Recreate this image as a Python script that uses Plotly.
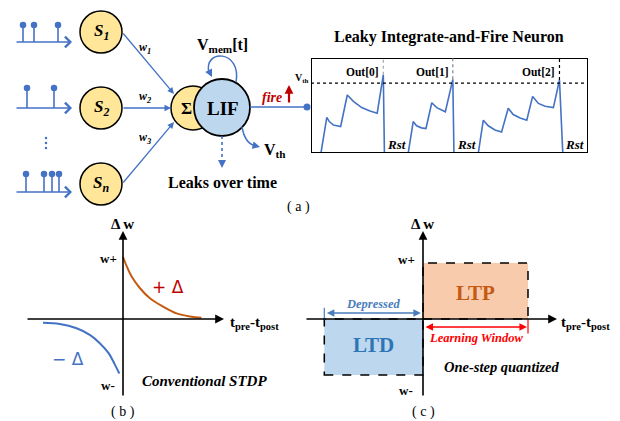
import plotly.graph_objects as go

W, H = 620, 421

# ---------------- data ----------------
# input spike trains (spike positions along each train)
train1 = [23, 34, 58]
train2 = [27, 54]
train3 = [26, 44, 52, 59]
synapse_labels = ["S<sub>1</sub>", "S<sub>2</sub>", "S<sub>n</sub>"]
weight_labels = ["w<sub>1</sub>", "w<sub>2</sub>", "w<sub>3</sub>"]

# LIF membrane potential (time a.u., potential relative to V_th = 1)
t_cycle0 = [3.6, 5.7, 6.6, 8.1, 10.7, 13.1, 15.3, 18.3, 21.3, 23.9, 26.1, 26.5]
v_cycle0 = [0, 0.51, 0.45, 0.40, 0.38, 0.83, 0.74, 0.65, 0.60, 0.57, 1.12, 0]
t_cycle1 = [35.1, 36.9, 38.1, 39.9, 41.5, 43.6, 45.4, 47.2, 48.5, 51.2, 51.6]
v_cycle1 = [0, 0.45, 0.39, 0.36, 0.35, 0.72, 0.65, 0.61, 0.59, 1.055, 0]
t_cycle2 = [60.4, 62.2, 64.0, 66.4, 68.8, 71.2, 73.0, 75.5, 77.9, 80.0, 82.1, 84.5, 87.5, 89.7, 90.9]
v_cycle2 = [0, 0.47, 0.39, 0.33, 0.30, 0.64, 0.55, 0.50, 0.47, 0.81, 0.71, 0.67, 0.65, 1.045, 0]
v_th = 1.0
input_spikes = [[3.6, 10.8, 24.1], [35.1, 42.0, 48.7], [60.2, 68.8, 78.1, 87.5]]
input_label_t = [13.0, 43.7, 75.1]
output_spikes = [26.1, 51.2, 89.7]
output_peaks = [1.12, 1.055, 1.045]
output_labels = ["Out[0]", "Out[1]", "Out[2]"]
reset_t = [30.7, 56.0, 95.3]

# Conventional STDP curves (delta t, delta w)
ltp_dt = [0.0, 0.05, 0.11, 0.21, 0.34, 0.50, 0.67, 0.84, 0.98]
ltp_dw = [1.0, 0.84, 0.68, 0.50, 0.33, 0.20, 0.09, 0.04, 0.02]
ltd_dt = [-1.0, -0.79, -0.58, -0.41, -0.29, -0.18, -0.10, -0.046]
ltd_dw = [-0.06, -0.08, -0.15, -0.26, -0.39, -0.55, -0.74, -0.88]

# One-step quantized STDP
ltp_window = 1.0
ltd_window = 0.94
w_plus = 1.0
w_minus = -1.0

# ---------------- styles ----------------
BLUE = "#4472C4"
ORANGE = "#C55A11"
SERIF = "Liberation Serif"
group_colors = ["#BFBFBF", "#808080", "#000000"]

fig = go.Figure()
ann = []
shp = []


def text(x, y, s, size, color="black", xref="x", yref="y", xanchor="center", family=SERIF):
    ann.append(dict(x=x, y=y, xref=xref, yref=yref, text=s, showarrow=False,
                    font=dict(family=family, size=size, color=color), xanchor=xanchor, yanchor="middle"))


def arrow(x0, y0, x1, y1, color=BLUE, width=1.3, head=2, size=1.0, xref="x", yref="y", side="end"):
    ann.append(dict(x=x1, y=y1, ax=x0, ay=y0, xref=xref, yref=yref, axref=xref, ayref=yref,
                    text="", showarrow=True, arrowhead=head, arrowsize=size, arrowwidth=width,
                    arrowcolor=color, standoff=0, startstandoff=0, arrowside=side,
                    startarrowhead=head, startarrowsize=size))


def px_x(p0, p1, origin, scale):
    return dict(domain=[p0 / W, p1 / W], range=[(p0 - origin) / scale, (p1 - origin) / scale])


def px_y(top, bot, origin, scale):
    return dict(domain=[1 - bot / H, 1 - top / H], range=[(origin - bot) / scale, (origin - top) / scale])


# ---------------- (a) neuron diagram (pixel frame) ----------------
trains = [train1, train2, train3]
baselines = [42, 108, 192]
heads = [25, 88, 174]
centers = [32, 108, 184]
for tr, base, hd in zip(trains, baselines, heads):
    xs, ys = [], []
    for s in tr:
        xs += [s, s, None]
        ys += [base, hd, None]
    fig.add_trace(go.Scatter(x=xs, y=ys, mode="lines", line=dict(color=BLUE, width=1.6),
                             hoverinfo="skip", showlegend=False))
    fig.add_trace(go.Scatter(x=tr, y=[hd] * len(tr), mode="markers",
                             marker=dict(color=BLUE, size=6.5), hoverinfo="skip", showlegend=False))
    arrow(15, base, 72, base, width=1.6, head=4, size=1.3)

# vertical dots
fig.add_trace(go.Scatter(x=[46, 46, 46], y=[138, 143, 148], mode="markers",
                         marker=dict(color=BLUE, size=2.5), hoverinfo="skip", showlegend=False))

# synapse circles
for cy, lab in zip(centers, synapse_labels):
    shp.append(dict(type="circle", xref="x", yref="y", x0=80, x1=122, y0=cy - 21, y1=cy + 21,
                    fillcolor="#FFE699", line=dict(color="black", width=1.5)))
    text(101, cy, "<b><i>" + lab + "</i></b>", 17)

# weight arrows
arrow(122, 32, 174, 94)
arrow(122, 108, 171, 108)
arrow(122, 184, 174, 122)
text(145, 48, "<b><i>" + weight_labels[0] + "</i></b>", 12)
text(145, 97, "<b><i>" + weight_labels[1] + "</i></b>", 12)
text(145, 138, "<b><i>" + weight_labels[2] + "</i></b>", 12)

# sum + LIF circles
shp.append(dict(type="circle", xref="x", yref="y", x0=171, x1=215, y0=86, y1=130,
                fillcolor="#FFE699", line=dict(color="black", width=1.5)))
shp.append(dict(type="circle", xref="x", yref="y", x0=194, x1=250, y0=79, y1=136,
                fillcolor="#BDD7EE", line=dict(color="black", width=1.8)))
text(186, 108, "<b>Σ</b>", 17)
text(223, 108, "<b>LIF</b>", 19)

# self loop
shp.append(dict(type="path", xref="x", yref="y", path="M 236 82 C 242 50, 203 48, 209 73",
                line=dict(color=BLUE, width=1.5)))
arrow(208.5, 70, 212, 77, width=1.5, size=1.0)
text(222, 45, "<b>V<sub>mem</sub>[t]</b>", 16)

# V_th curved arrow
shp.append(dict(type="path", xref="x", yref="y", path="M 242 127 Q 245 144, 256 146",
                line=dict(color=BLUE, width=1.5)))
arrow(252, 145, 260, 147, width=1.5)
text(275, 150, "<b>V<sub>th</sub></b>", 16)

# leak dashed arrow
shp.append(dict(type="line", xref="x", yref="y", x0=222, x1=222, y0=136, y1=162,
                line=dict(color=BLUE, width=1.6, dash="dot")))
arrow(222, 160, 222, 168, width=1.6)
text(222, 182, "<b>Leaks over time</b>", 16)

# output
shp.append(dict(type="line", xref="x", yref="y", x0=250, x1=307, y0=107, y1=107,
                line=dict(color=BLUE, width=1.6)))
fig.add_trace(go.Scatter(x=[307], y=[107], mode="markers", marker=dict(color=BLUE, size=7),
                         hoverinfo="skip", showlegend=False))
text(272, 97, "<b><i>fire</i></b>", 14, color="#C00000")
arrow(289, 104, 289, 85, color="#C00000", width=2.2, size=0.8)
text(302, 78, "<b>V<sub>th</sub></b>", 10)

text(298.5, 207, "( a )", 14)

# ---------------- (a) LIF trace panel (x2/y2) ----------------
for tt, vv in [(t_cycle0, v_cycle0), (t_cycle1, v_cycle1), (t_cycle2, v_cycle2)]:
    fig.add_trace(go.Scatter(x=tt, y=vv, xaxis="x2", yaxis="y2", mode="lines",
                             line=dict(color=BLUE, width=1.6), hoverinfo="skip", showlegend=False,
                             cliponaxis=False))
shp.append(dict(type="line", xref="x2", yref="y2", x0=0, x1=100, y0=v_th, y1=v_th,
                line=dict(color="black", width=1.2, dash="dot")))
shp.append(dict(type="rect", xref="x2", yref="y2", x0=0, x1=100, y0=0, y1=1.36,
                line=dict(color="black", width=2)))
for i, (ts, pk) in enumerate(zip(output_spikes, output_peaks)):
    col = ["#A6A6A6", "#808080", "#000000"][i]
    shp.append(dict(type="line", xref="x2", yref="y2", x0=ts, x1=ts, y0=pk, y1=1.5,
                    line=dict(color=col, width=1.2, dash="dot")))
    arrow(ts, 1.48, ts, 1.58, color=col, width=1.2, size=1.0, xref="x2", yref="y2")
    text(ts - 0.8, 1.16, "<b>" + output_labels[i] + "</b>", 11.5, xref="x2", yref="y2", xanchor="right")
for rt in reset_t:
    text(rt, 0.115, "<b><i>Rst</i></b>", 13, xref="x2", yref="y2")
text(101.5, -0.03, "<b>time</b>", 11.5, xref="x2", yref="y2", xanchor="left")
for g, spikes in enumerate(input_spikes):
    for s in spikes:
        arrow(s, -0.27, s, -0.05, color=group_colors[g], width=1.4, size=1.0, xref="x2", yref="y2")
    text(input_label_t[g], -0.40, "<b>Input spikes</b>", 13, xref="x2", yref="y2")
text(449, 37, "<b>Leaky Integrate-and-Fire Neuron</b>", 16)

# ---------------- (b) conventional STDP (x3/y3) ----------------
arrow(26, 319, 224, 319, color="black", width=1.6, head=2, size=1.1)
arrow(123, 397, 123, 231, color="black", width=1.6, head=2, size=1.1)
fig.add_trace(go.Scatter(x=ltp_dt, y=ltp_dw, xaxis="x3", yaxis="y3", mode="lines",
                         line=dict(color=ORANGE, width=2, shape="spline"), hoverinfo="skip", showlegend=False))
fig.add_trace(go.Scatter(x=ltd_dt, y=ltd_dw, xaxis="x3", yaxis="y3", mode="lines",
                         line=dict(color=BLUE, width=2, shape="spline"), hoverinfo="skip", showlegend=False))
text(122, 224, "<b>Δ w</b>", 15)
text(108, 258, "<b>w+</b>", 13)
text(108, 385, "<b>w-</b>", 13)
text(228, 323, "<b>t<sub>pre</sub>-t<sub>post</sub></b>", 15, xanchor="left")
text(168, 287, "+ Δ", 17, color="#C00000", family="DejaVu Sans")
text(68, 359, "− Δ", 17, color=BLUE, family="DejaVu Sans")
text(204, 381, "<b><i>Conventional STDP</i></b>", 15)
text(123, 412, "( b )", 14)

# ---------------- (c) one-step quantized (x4/y4) ----------------
shp.append(dict(type="rect", xref="x4", yref="y4", x0=0, x1=ltp_window, y0=0, y1=w_plus,
                fillcolor="#F8CBAD", line=dict(color="black", width=1.5, dash="dash"), layer="below"))
shp.append(dict(type="rect", xref="x4", yref="y4", x0=-ltd_window, x1=0, y0=w_minus, y1=0,
                fillcolor="#BDD7EE", line=dict(color="black", width=1.5, dash="dash"), layer="below"))
arrow(305, 319, 557, 319, color="black", width=1.6, head=2, size=1.1)
arrow(423, 397, 423, 231, color="black", width=1.6, head=2, size=1.1)
text(ltp_window / 2, w_plus / 2 - 0.03, "<b>LTP</b>", 21, color=ORANGE, xref="x4", yref="y4")
text(-ltd_window / 2, w_minus / 2 + 0.03, "<b>LTD</b>", 21, color="#2E75B6", xref="x4", yref="y4")
# depressed
shp.append(dict(type="line", xref="x4", yref="y4", x0=-ltd_window, x1=-ltd_window, y0=-0.02, y1=0.2,
                line=dict(color="#4A7EBB", width=1.2)))
arrow(-ltd_window + 0.01, 0.107, -0.02, 0.107, color="#4A7EBB", width=1.5, head=2, size=1.0,
      xref="x4", yref="y4", side="end+start")
text(-ltd_window / 2, 0.26, "<b><i>Depressed</i></b>", 12.5, color="#4A7EBB", xref="x4", yref="y4")
# learning window
shp.append(dict(type="line", xref="x4", yref="y4", x0=ltp_window, x1=ltp_window, y0=0, y1=-0.26,
                line=dict(color="#FF0000", width=1.2)))
arrow(0.01, -0.143, ltp_window - 0.01, -0.143, color="#FF0000", width=1.5, head=2, size=1.0,
      xref="x4", yref="y4", side="end+start")
text(ltp_window / 2, -0.34, "<b><i>Learning Window</i></b>", 12.5, color="#FF0000", xref="x4", yref="y4")
text(422, 224, "<b>Δ w</b>", 15)
text(406, 259, "<b>w+</b>", 13)
text(406, 390, "<b>w-</b>", 13)
text(559, 323, "<b>t<sub>pre</sub>-t<sub>post</sub></b>", 15, xanchor="left")
text(502, 367, "<b><i>One-step quantized</i></b>", 14.5)
text(423, 412, "( c )", 14)

hidden = dict(visible=False, fixedrange=True)
fig.update_layout(
    width=W, height=H, margin=dict(l=0, r=0, t=0, b=0),
    paper_bgcolor="white", plot_bgcolor="rgba(0,0,0,0)",
    xaxis=dict(range=[0, W], domain=[0, 1], **hidden),
    yaxis=dict(range=[H, 0], domain=[0, 1], **hidden),
    xaxis2=dict(anchor="y2", **px_x(311, 588, 311, 2.77), **hidden),
    yaxis2=dict(anchor="x2", **px_y(58, 153, 153, 95 / 1.36), **hidden),
    xaxis3=dict(anchor="y3", **px_x(20, 230, 123, 80), **hidden),
    yaxis3=dict(anchor="x3", **px_y(225, 400, 319, 62), **hidden),
    xaxis4=dict(anchor="y4", **px_x(300, 560, 423, 105), **hidden),
    yaxis4=dict(anchor="x4", **px_y(225, 400, 319, 56), **hidden),
    annotations=ann, shapes=shp, showlegend=False,
)
fig.write_html("out.html", config={"displayModeBar": False},
               post_script="document.body.style.margin='0px';document.body.style.overflow='hidden';")
